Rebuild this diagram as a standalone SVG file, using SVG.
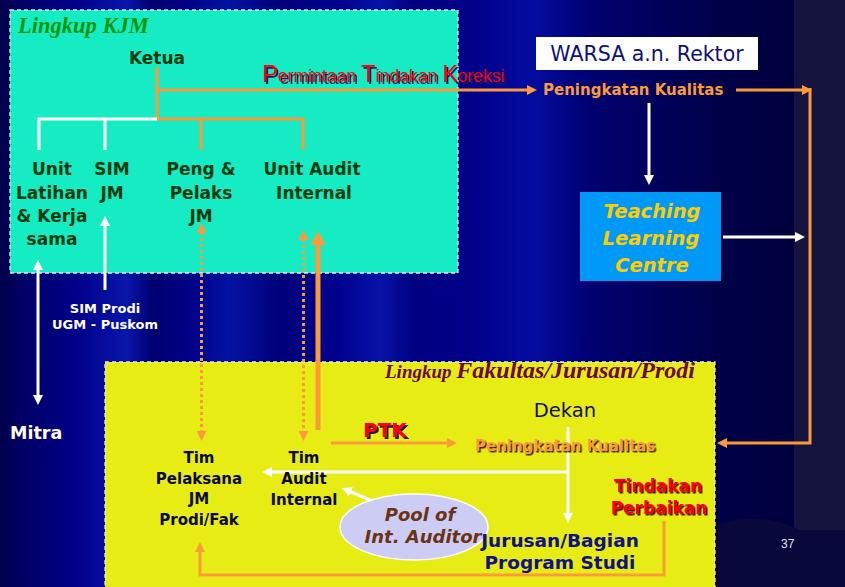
<svg xmlns="http://www.w3.org/2000/svg" width="845" height="587" viewBox="0 0 845 587">
<defs>
<linearGradient id="bg" x1="0" y1="0" x2="845" y2="0" gradientUnits="userSpaceOnUse">
<stop offset="0" stop-color="#00004c"/>
<stop offset="0.03" stop-color="#000068"/>
<stop offset="0.09" stop-color="#00008a"/>
<stop offset="0.15" stop-color="#0a16aa"/>
<stop offset="0.18" stop-color="#000070"/>
<stop offset="0.22" stop-color="#000084"/>
<stop offset="0.27" stop-color="#0412a2"/>
<stop offset="0.33" stop-color="#00007a"/>
<stop offset="0.40" stop-color="#00008e"/>
<stop offset="0.45" stop-color="#0812a8"/>
<stop offset="0.49" stop-color="#000080"/>
<stop offset="0.56" stop-color="#00008a"/>
<stop offset="0.63" stop-color="#040ca0"/>
<stop offset="0.70" stop-color="#000070"/>
<stop offset="0.85" stop-color="#000048"/>
<stop offset="0.94" stop-color="#00003e"/>
</linearGradient>
<filter id="shNavy" x="-5%" y="-20%" width="110%" height="140%"><feDropShadow dx="2" dy="2" stdDeviation="0" flood-color="#1a1a5a"/></filter>
<filter id="shDark" x="-5%" y="-20%" width="110%" height="140%"><feDropShadow dx="1.5" dy="1.5" stdDeviation="0" flood-color="#3a0a0a"/></filter>
<filter id="shBrown" x="-5%" y="-20%" width="110%" height="140%"><feDropShadow dx="1.5" dy="1.5" stdDeviation="0" flood-color="#4a1a10"/></filter>
<marker id="ao" viewBox="0 0 10 10" refX="1" refY="5" markerWidth="10" markerHeight="10" markerUnits="userSpaceOnUse" orient="auto-start-reverse"><path d="M0,0 L10,5 L0,10 z" fill="#fb9a3a"/></marker>
<marker id="aw" viewBox="0 0 10 10" refX="1" refY="5" markerWidth="10" markerHeight="10" markerUnits="userSpaceOnUse" orient="auto-start-reverse"><path d="M0,0 L10,5 L0,10 z" fill="#ffffff"/></marker>
<marker id="ab" viewBox="0 0 14 15" refX="1" refY="7.5" markerWidth="14" markerHeight="15" markerUnits="userSpaceOnUse" orient="auto"><path d="M0,0 L14,7.5 L0,15 z" fill="#fb9a3a"/></marker>
<style>
.box{stroke:#e8e8e8;stroke-width:1.3;stroke-dasharray:4 3}
.o{fill:none;stroke:#fb9a3a;stroke-width:3}
.w{fill:none;stroke:#ffffff;stroke-width:3}
.dot{fill:none;stroke:#fb9a3a;stroke-width:3;stroke-dasharray:3 3}
.sans{font-family:"DejaVu Sans","Verdana",sans-serif}
.b{font-weight:bold}
.node{font-family:"DejaVu Sans","Verdana",sans-serif;font-weight:bold;font-size:17px;fill:#083a0c;text-anchor:middle}
.tim{font-family:"DejaVu Sans","Verdana",sans-serif;font-weight:bold;font-size:15px;fill:#0a0a40;text-anchor:middle}
.serif{font-family:"Liberation Serif","Times New Roman",serif;font-weight:bold;font-style:italic}
</style>
</defs>

<rect width="845" height="587" fill="url(#bg)"/>
<rect x="794" y="0" width="51" height="533" fill="#14143e"/>
<path d="M715,587 V525 Q760,510 800,530 H845 V587 Z" fill="#08083a"/>

<g id="lingkup-kjm">
<rect class="box" x="10" y="10" width="448" height="263" fill="#15ecc3"/>
<text class="serif" x="18" y="33" font-size="22.5" fill="#0a960a">Lingkup KJM</text>
</g>

<g id="lingkup-fakultas">
<rect class="box" x="105" y="362" width="610" height="240" fill="#e6ec14"/>
<text class="serif" x="385" y="378" fill="#6a0a3c"><tspan font-size="19">Lingkup </tspan><tspan font-size="24">Fakultas/Jurusan/Prodi</tspan></text>
</g>

<g id="connectors">
<path class="o" d="M157,67 V119 H303 V150 M201,119 V150"/>
<path class="w" d="M157,119 H39 V150 M105,119 V150"/>
<path class="o" d="M157,90 H528" marker-end="url(#ao)"/>
<path class="o" d="M736,90 H803" marker-end="url(#ao)"/>
<path class="o" d="M810,88 V443 H726" marker-end="url(#ao)"/>
<path class="w" d="M649,103 V176" marker-end="url(#aw)"/>
<path class="w" d="M723,237 H796" marker-end="url(#aw)"/>
<path class="w" d="M38,269 V396" marker-start="url(#aw)" marker-end="url(#aw)"/>
<path class="w" d="M105,290 V225" marker-end="url(#aw)"/>
<path class="dot" d="M201.5,232 V432" marker-start="url(#ao)" marker-end="url(#ao)"/>
<path class="dot" d="M303.5,239 V432" marker-start="url(#ao)" marker-end="url(#ao)"/>
<path fill="none" stroke="#fb9a3a" stroke-width="5" d="M318,430 V244" marker-end="url(#ab)"/>
<path class="o" d="M331,443 H448" marker-end="url(#ao)"/>
<path class="w" d="M568,427 V514" marker-end="url(#aw)"/>
<path class="w" d="M568,472 H271" marker-end="url(#aw)"/>
<path class="w" d="M370,500 L350,491.5" marker-end="url(#aw)"/>
<path class="o" d="M664,521 V575 H200 V551" marker-end="url(#ao)"/>
<text x="262" y="82" font-family="'Liberation Sans',Arial,sans-serif" fill="#ff0000" filter="url(#shNavy)" textLength="243" lengthAdjust="spacingAndGlyphs"><tspan font-size="24">P</tspan><tspan font-size="18">ermintaan </tspan><tspan font-size="24">T</tspan><tspan font-size="18">indakan </tspan><tspan font-size="24">K</tspan><tspan font-size="18">oreksi</tspan></text>
<text class="sans b" x="363" y="437" font-size="20" fill="#ff0000" filter="url(#shNavy)">PTK</text>
</g>

<g id="ketua"><text class="node" x="157" y="64" font-size="21">Ketua</text></g>
<g id="unit-latihan"><text class="node" x="52" y="175">Unit</text><text class="node" x="52" y="199">Latihan</text><text class="node" x="52" y="222">&amp; Kerja</text><text class="node" x="52" y="245">sama</text></g>
<g id="sim-jm"><text class="node" x="112" y="175">SIM</text><text class="node" x="112" y="199">JM</text></g>
<g id="peng-pelaks"><text class="node" x="201" y="175">Peng &amp;</text><text class="node" x="201" y="199">Pelaks</text><text class="node" x="201" y="222">JM</text></g>
<g id="unit-audit"><text class="node" x="312" y="175">Unit Audit</text><text class="node" x="314" y="199">Internal</text></g>

<g id="warsa"><rect x="536" y="37" width="222" height="33" fill="#ffffff"/><text class="sans" x="647" y="61" font-size="20.5" fill="#10107a" text-anchor="middle">WARSA a.n. Rektor</text></g>
<g id="peningkatan-atas"><text class="sans b" x="543" y="95" font-size="15" fill="#fb9a3a">Peningkatan Kualitas</text></g>
<g id="tlc"><rect x="580" y="192" width="141" height="89" fill="#0099f8"/>
<g class="sans b" font-style="italic" font-size="19.5" fill="#ffcc00" text-anchor="middle"><text x="652" y="218">Teaching</text><text x="651" y="245">Learning</text><text x="652" y="272">Centre</text></g></g>

<g id="mitra"><text class="sans b" x="10" y="439" font-size="17.5" fill="#ffffff">Mitra</text></g>
<g id="sim-prodi"><text class="sans b" x="105" y="313" font-size="13" fill="#ffffff" text-anchor="middle">SIM Prodi</text><text class="sans b" x="105" y="329" font-size="13" fill="#ffffff" text-anchor="middle">UGM - Puskom</text></g>

<g id="dekan"><text class="sans" x="565" y="417" font-size="19.5" fill="#101060" text-anchor="middle">Dekan</text></g>
<g id="peningkatan-bawah"><text class="sans b" x="475" y="451" font-size="15" fill="#fb9a3a" filter="url(#shBrown)">Peningkatan Kualitas</text></g>
<g id="tindakan"><g class="sans b" font-size="17" text-anchor="middle" fill="#ff0000" filter="url(#shDark)"><text x="658" y="492">Tindakan</text><text x="659" y="514">Perbaikan</text></g></g>
<g id="tim-pelaksana"><text class="tim" x="199" y="463">Tim</text><text class="tim" x="199" y="484">Pelaksana</text><text class="tim" x="199" y="504">JM</text><text class="tim" x="199" y="525">Prodi/Fak</text></g>
<g id="tim-audit"><text class="tim" x="304" y="463">Tim</text><text class="tim" x="304" y="484">Audit</text><text class="tim" x="304" y="505">Internal</text></g>
<g id="pool"><ellipse cx="414" cy="527" rx="74" ry="33" fill="#ccccf4" stroke="#ffffff" stroke-width="1.5"/>
<g class="sans b" font-style="italic" font-size="18" fill="#6a3414" text-anchor="middle"><text x="420" y="521">Pool of</text><text x="423" y="543">Int. Auditor</text></g></g>
<g id="jurusan"><g class="sans b" font-size="18.5" fill="#10108a" text-anchor="middle"><text x="560" y="547">Jurusan/Bagian</text><text x="560" y="569">Program Studi</text></g></g>
<g id="page"><text x="781" y="548" font-family="'Liberation Sans',Arial,sans-serif" font-size="12" fill="#e0e0e8">37</text></g>
</svg>
